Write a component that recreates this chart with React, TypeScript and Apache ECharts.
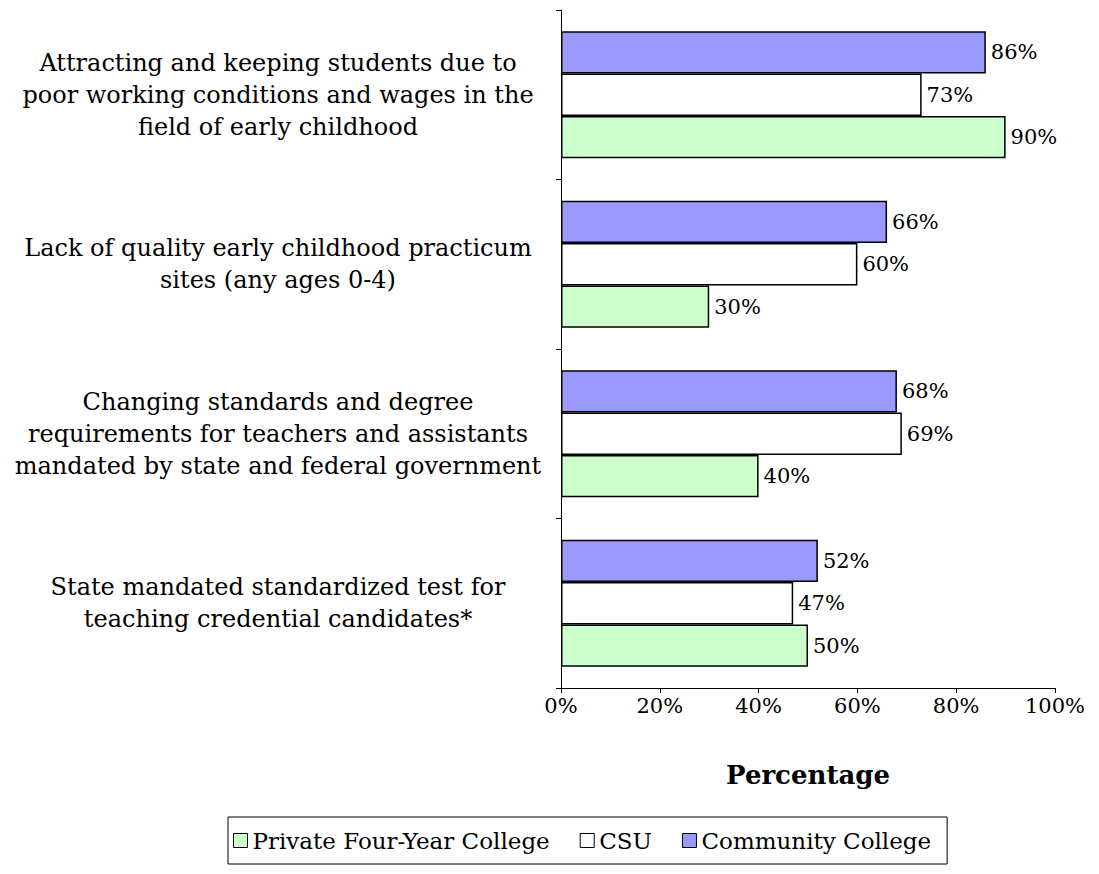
import React, { useEffect, useRef } from "react";
import * as echarts from "echarts";

const categories = [
  "Attracting and keeping students due to\npoor working conditions and wages in the\nfield of early childhood",
  "Lack of quality early childhood practicum\nsites (any ages 0-4)",
  "Changing standards and degree\nrequirements for teachers and assistants\nmandated by state and federal government",
  "State mandated standardized test for\nteaching credential candidates*",
];
const seriesNames = ["Private Four-Year College", "CSU", "Community College"];
const privateValues = [90, 30, 40, 50];
const csuValues = [73, 60, 69, 47];
const communityValues = [86, 66, 68, 52];
const xTicks = [0, 20, 40, 60, 80, 100];

const SERIF = "'DejaVu Serif', Georgia, serif";

export default function App() {
  const ref = useRef<HTMLDivElement>(null);
  useEffect(() => {
    if (!ref.current) return;
    const chart = echarts.init(ref.current, undefined, { renderer: "svg" });
    const colors = ["#ccffcc", "#ffffff", "#9999ff"];
    const data = [privateValues, csuValues, communityValues];
    const mk = (i: number) => ({
      name: seriesNames[i],
      type: "bar",
      data: data[i],
      barGap: "0%",
      barCategoryGap: "25%",
      itemStyle: { color: colors[i], borderColor: "#000", borderWidth: 1.5 },
      label: {
        show: true,
        position: "right",
        distance: 5,
        formatter: "{c}%",
        fontFamily: SERIF,
        fontSize: 21,
        color: "#000",
      },
    });
    chart.setOption({
      animation: false,
      backgroundColor: "#fff",
      grid: { left: 553, right: 36, top: 2, bottom: 178, containLabel: false },
      legend: {
        data: seriesNames,
        left: 220,
        top: 809,
        padding: [12, 16, 12, 5],
        itemGap: 30,
        itemWidth: 14,
        itemHeight: 14,
        borderColor: "#000",
        borderWidth: 1,
        borderRadius: 0,
        icon: "rect",
        textStyle: { fontFamily: SERIF, fontSize: 23, color: "#000", padding: [0, 0, 0, 0] },
        itemStyle: { borderColor: "#000", borderWidth: 1 },
      },
      xAxis: {
        type: "value",
        min: 0,
        max: 100,
        interval: 20,
        name: "Percentage",
        nameLocation: "middle",
        nameGap: 74,
        nameTextStyle: { fontFamily: SERIF, fontSize: 26, fontWeight: "bold", color: "#000" },
        axisLine: { show: true, lineStyle: { color: "#000", width: 1 } },
        axisTick: { show: true, length: 5, lineStyle: { color: "#000" } },
        axisLabel: {
          formatter: (v: number) => (xTicks.includes(v) ? v + "%" : ""),
          fontFamily: SERIF,
          fontSize: 21,
          color: "#000",
          margin: 7,
        },
        splitLine: { show: false },
      },
      yAxis: {
        type: "category",
        data: categories,
        inverse: true,
        axisLine: { show: true, lineStyle: { color: "#000", width: 1 } },
        axisTick: { show: true, length: 5, lineStyle: { color: "#000" } },
        axisLabel: {
          fontFamily: SERIF,
          fontSize: 24,
          color: "#000",
          align: "center",
          margin: 283,
          lineHeight: 32,
        },
      },
      series: [mk(2), mk(1), mk(0)],
    });
    return () => chart.dispose();
  }, []);
  return <div ref={ref} style={{ width: 1083, height: 858 }} />;
}
